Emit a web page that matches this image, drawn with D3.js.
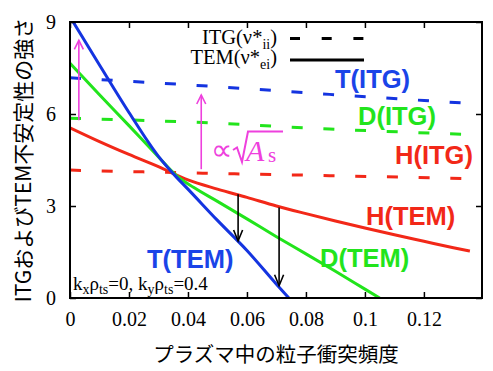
<!DOCTYPE html>
<html><head><meta charset="utf-8">
<script src="https://cdn.jsdelivr.net/npm/d3@7"></script>
<style>
html,body{margin:0;padding:0;background:#fff;}
svg{display:block;}
</style></head>
<body>
<svg id="chart" width="493" height="371"></svg>
<script>
// ---- data ----
const xTicks = [0, 0.02, 0.04, 0.06, 0.08, 0.1, 0.12];
const xTickLabels = ["0", "0.02", "0.04", "0.06", "0.08", "0.1", "0.12"];
const yTicks = [0, 3, 6, 9];
const yTickLabels = ["0", "3", "6", "9"];

const itgNu = [0, 0.045, 0.088, 0.133];
const tITG = [7.18, 6.92, 6.64, 6.36];
const dITG = [5.86, 5.72, 5.51, 5.34];
const hITG = [4.17, 4.07, 3.99, 3.90];

const tTEMnu = [0, 0.01, 0.02, 0.03, 0.036, 0.04, 0.05, 0.06, 0.07, 0.0742];
const tTEM = [9.17, 7.6, 6.05, 4.62, 3.95, 3.55, 2.53, 1.55, 0.45, 0];
const dTEMnu = [0, 0.01, 0.02, 0.03, 0.036, 0.042, 0.05, 0.06, 0.07, 0.08, 0.09, 0.1, 0.105];
const dTEM = [7.65, 6.63, 5.62, 4.6, 4.0, 3.6, 3.15, 2.58, 2.0, 1.44, 0.87, 0.29, 0];
const hTEMnu = [0, 0.01, 0.02, 0.03, 0.04, 0.05, 0.06, 0.07, 0.08, 0.09, 0.1, 0.11, 0.12, 0.13, 0.1356];
const hTEM = [5.55, 5.10, 4.68, 4.28, 3.85, 3.55, 3.28, 3.0, 2.75, 2.51, 2.28, 2.06, 1.85, 1.64, 1.53];

const seriesNames = ["T(ITG)", "D(ITG)", "H(ITG)", "T(TEM)", "D(TEM)", "H(TEM)"];
const legendLabels = ["ITG", "TEM"];

// annotation arrows (data coords)
const blackArrowNu = [0.057, 0.0709];
const blackArrowFrom = [3.38, 2.95];
const blackArrowTo = [1.86, 0.4];
const pinkArrowNu = [0.003, 0.0445];
const pinkArrowFrom = [5.8, 4.2];
const pinkArrowTo = [8.4, 6.62];

// ---- layout ----
const C = {blue: "#1434e0", green: "#22e41c", red: "#f22818", pink: "#ee40dd", blueT: "#1a44e8"};
const svg = d3.select("#chart");
const L = 70, R = 482, T = 22, B = 298;
const x = d3.scaleLinear().domain([0, 0.1397]).range([L, R]);
const y = d3.scaleLinear().domain([0, 9]).range([B, T]);

svg.append("clipPath").attr("id", "clip").append("rect")
  .attr("x", L).attr("y", T).attr("width", R - L).attr("height", B - T);

const line = d3.line().x(d => x(d[0])).y(d => y(d[1])).curve(d3.curveMonotoneX);
const zip = (a, b) => a.map((v, i) => [v, b[i]]);

const plot = svg.append("g").attr("clip-path", "url(#clip)");
// ITG dashed
[[tITG, C.blue], [dITG, C.green], [hITG, C.red]].forEach(([vals, col]) => {
  plot.append("path").attr("d", line(zip(itgNu, vals)))
    .attr("fill", "none").attr("stroke", col).attr("stroke-width", 3)
    .attr("stroke-dasharray", "11,20.7");
});
// TEM solid
[[hTEMnu, hTEM, C.red], [dTEMnu, dTEM, C.green], [tTEMnu, tTEM, C.blue]].forEach(([nu, vals, col]) => {
  plot.append("path").attr("d", line(zip(nu, vals)))
    .attr("fill", "none").attr("stroke", col).attr("stroke-width", 3);
});

// arrows
function arrow(g, x0, y0, x1, y1, col, w, hl, hw) {
  g.append("line").attr("x1", x0).attr("y1", y0).attr("x2", x1).attr("y2", y1)
    .attr("stroke", col).attr("stroke-width", w);
  const dir = y1 < y0 ? 1 : -1;
  g.append("path").attr("d", `M${x1 - hw},${y1 + dir * hl}L${x1},${y1}L${x1 + hw},${y1 + dir * hl}`)
    .attr("fill", "none").attr("stroke", col).attr("stroke-width", w);
}
const ann = svg.append("g");
blackArrowNu.forEach((nu, i) => arrow(ann, x(nu), y(blackArrowFrom[i]), x(nu), y(blackArrowTo[i]), "#000", 1.6, 11, 4.5));
pinkArrowNu.forEach((nu, i) => arrow(ann, x(nu), y(pinkArrowFrom[i]), x(nu), y(pinkArrowTo[i]), C.pink, 1.6, 9, 4.5));

// axes
const serif = "'Liberation Serif','Times New Roman',serif";
const xAxis = d3.axisBottom(x).tickValues(xTicks).tickFormat((d, i) => xTickLabels[i]).tickSize(-6).tickPadding(14);
const gx = svg.append("g").attr("transform", `translate(0,${B})`).call(xAxis);
const xTop = d3.axisTop(x).tickValues(xTicks).tickFormat("").tickSize(-6);
const gxt = svg.append("g").attr("transform", `translate(0,${T})`).call(xTop);
const yAxis = d3.axisLeft(y).tickValues(yTicks).tickFormat((d, i) => yTickLabels[i]).tickSize(-6).tickPadding(14);
const gy = svg.append("g").attr("transform", `translate(${L},0)`).call(yAxis);
const yRight = d3.axisRight(y).tickValues(yTicks).tickFormat("").tickSize(-6);
const gyr = svg.append("g").attr("transform", `translate(${R},0)`).call(yRight);
[gx, gxt, gy, gyr].forEach(g => {
  g.select(".domain").remove();
  g.selectAll(".tick line").attr("stroke", "#000").attr("stroke-width", 1.5);
  g.selectAll("text").attr("font-family", serif).attr("font-size", 20).attr("fill", "#000");
});
svg.append("rect").attr("x", L).attr("y", T).attr("width", R - L).attr("height", B - T)
  .attr("fill", "none").attr("stroke", "#000").attr("stroke-width", 2);

// axis titles
const cjk = "'Noto Sans CJK JP','Noto Sans',sans-serif";
svg.append("text").attr("transform", `translate(31,${(T + B) / 2}) rotate(-90)`)
  .attr("text-anchor", "middle").attr("font-family", cjk).attr("font-size", 21).attr("fill", "#000")
  .text("ITGおよびTEM不安定性の強さ");
svg.append("text").attr("x", (L + R) / 2).attr("y", 362)
  .attr("text-anchor", "middle").attr("font-family", cjk).attr("font-size", 20.5).attr("fill", "#000")
  .text("プラズマ中の粒子衝突頻度");

// legend
const leg = svg.append("g");
function legText(yb, main, sub) {
  const t = leg.append("text").attr("x", 277).attr("y", yb).attr("text-anchor", "end")
    .attr("font-family", serif).attr("font-size", 20.5).attr("fill", "#000");
  t.append("tspan").text(main + "(ν*");
  t.append("tspan").attr("dy", 5).attr("font-size", 14).text(sub);
  t.append("tspan").attr("dy", -5).text(")");
}
legText(43.5, legendLabels[0], "ii");
legText(63.5, legendLabels[1], "ei");
leg.append("line").attr("x1", 290).attr("x2", 364).attr("y1", 38.5).attr("y2", 38.5)
  .attr("stroke", "#000").attr("stroke-width", 3).attr("stroke-dasharray", "10,21.7");
leg.append("line").attr("x1", 290).attr("x2", 364).attr("y1", 60).attr("y2", 60)
  .attr("stroke", "#000").attr("stroke-width", 3);

// series labels
const sans = "'Liberation Sans',Arial,sans-serif";
const labelPos = [[335, 87.5, C.blueT], [358, 125, C.green], [395, 164, C.red], [147, 267.5, C.blueT], [320, 266.5, C.green], [366, 225, C.red]];
seriesNames.forEach((n, i) => {
  svg.append("text").attr("x", labelPos[i][0]).attr("y", labelPos[i][1])
    .attr("font-family", sans).attr("font-weight", "bold").attr("font-size", 25.5)
    .attr("fill", labelPos[i][2]).text(n);
});

// proportional annotation: ∝ √(A_s)
svg.append("text").attr("x", 211).attr("y", 160).attr("font-family", serif)
  .attr("fill", C.pink).attr("font-size", 30).text("∝");
svg.append("path").attr("d", "M233,150 L237,147.5 L242,162 L248,131.5 L283,131.5")
  .attr("fill", "none").attr("stroke", C.pink).attr("stroke-width", 2).attr("stroke-linejoin", "miter");
const at = svg.append("text").attr("y", 161).attr("font-family", serif).attr("fill", C.pink);
at.append("tspan").attr("x", 246).attr("font-style", "italic").attr("font-size", 30).text("A");
at.append("tspan").attr("x", 268).attr("dy", 1).attr("font-size", 21).text("s");

// parameter note
const kt = svg.append("text").attr("x", 73).attr("y", 289.5).attr("font-family", serif).attr("font-size", 19).attr("fill", "#000");
kt.append("tspan").text("k");
kt.append("tspan").attr("dy", 4).attr("font-size", 14).text("x");
kt.append("tspan").attr("dy", -4).text("ρ");
kt.append("tspan").attr("dy", 4).attr("font-size", 14).text("ts");
kt.append("tspan").attr("dy", -4).text("=0, k");
kt.append("tspan").attr("dy", 4).attr("font-size", 14).text("y");
kt.append("tspan").attr("dy", -4).text("ρ");
kt.append("tspan").attr("dy", 4).attr("font-size", 14).text("ts");
kt.append("tspan").attr("dy", -4).text("=0.4");
</script>
</body></html>
